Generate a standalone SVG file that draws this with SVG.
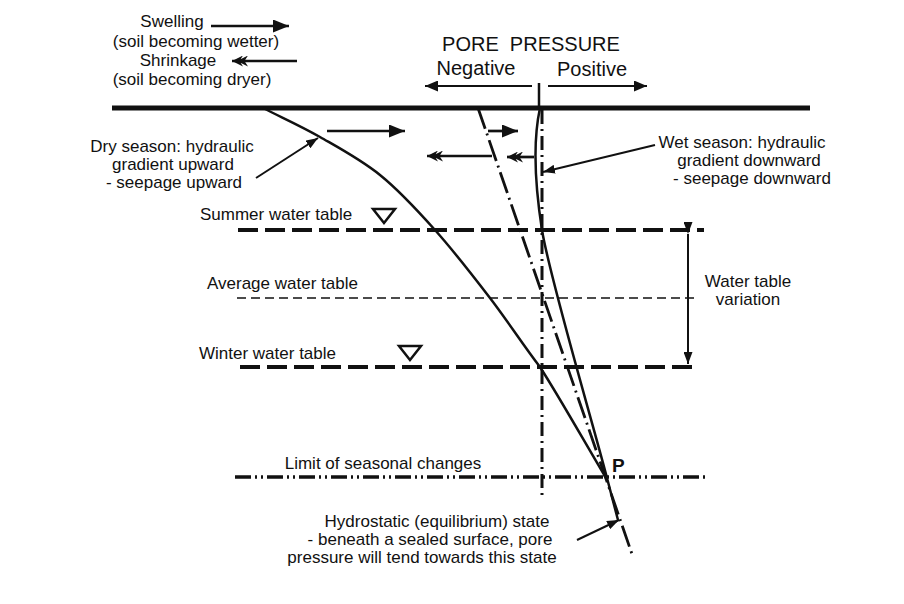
<svg xmlns="http://www.w3.org/2000/svg" width="904" height="604" viewBox="0 0 904 604">
<style>
text{font-family:"Liberation Sans",Arial,sans-serif;font-size:17px;fill:#111}
.c{text-anchor:middle}
.big{font-size:20px}
.ln{stroke:#111;fill:none}
</style>
<defs>
<marker id="tri" viewBox="0 0 12 9" markerUnits="userSpaceOnUse" markerWidth="12" markerHeight="9" refX="12" refY="4.5" orient="auto"><path d="M0,0 L12,4.5 L0,9 Z" fill="#111"/></marker>
<marker id="triM" viewBox="0 0 13 11" markerUnits="userSpaceOnUse" markerWidth="13" markerHeight="11" refX="13" refY="5.5" orient="auto"><path d="M0,0 L13,5.5 L0,11 Z" fill="#111"/></marker>
<marker id="triL" viewBox="0 0 16 13" markerUnits="userSpaceOnUse" markerWidth="16" markerHeight="13" refX="16" refY="6.5" orient="auto"><path d="M0,0 L16,6.5 L0,13 Z" fill="#111"/></marker>
<marker id="dbl" viewBox="0 0 16 11" markerUnits="userSpaceOnUse" markerWidth="16" markerHeight="11" refX="16" refY="5.5" orient="auto"><path d="M16,5.5 L5,0 L8.5,5.5 L5,11 Z M11,5.5 L0,0 L3.5,5.5 L0,11 Z" fill="#111"/></marker>
</defs>
<rect width="904" height="604" fill="#fff"/>

<g id="ground"><line class="ln" x1="112" y1="108" x2="810" y2="108" stroke-width="5"/></g>

<g id="water-tables">
<line class="ln" x1="238" y1="230" x2="704" y2="230" stroke-width="4" stroke-dasharray="20 7"/>
<line class="ln" x1="237" y1="298" x2="698" y2="298" stroke-width="1.6" stroke-dasharray="9 5"/>
<line class="ln" x1="240" y1="367" x2="697" y2="367" stroke-width="4" stroke-dasharray="20 7"/>
<line class="ln" x1="235" y1="477" x2="705" y2="477" stroke-width="3.5" stroke-dasharray="16 4 2 4 2 4"/>
<polygon points="373,209 395,209 384,223" fill="#fff" stroke="#111" stroke-width="2.5"/>
<polygon points="399,346 421,346 410,360" fill="#fff" stroke="#111" stroke-width="2.5"/>
</g>

<g id="profiles">
<line class="ln" x1="542" y1="110" x2="542" y2="498" stroke-width="3" stroke-dasharray="14 5 2 5"/>
<line class="ln" x1="478" y1="108" x2="633" y2="557" stroke-width="2.8" stroke-dasharray="22 5 2 5"/>
<path class="ln" stroke-width="2.5" d="M263,108 C282,117.7 300.5,125.8 320,137 C339.5,148.2 360.8,159.5 380,175 C399.2,190.5 416.7,209.5 435,230 C453.3,250.5 472.5,275.2 490,298 C507.5,320.8 522.5,344.2 540,367 C559.3,397 584,441 606,478"/>
<path class="ln" stroke-width="2.5" d="M540,108 C533,140 535,185 542,230 C549,275 592,420 607,478 L618,520"/>
</g>

<g id="connectors">
<line class="ln" x1="539" y1="83" x2="539" y2="108" stroke-width="2.5"/>
<line class="ln" x1="532" y1="86" x2="425" y2="86" stroke-width="2" marker-end="url(#triM)"/>
<line class="ln" x1="548" y1="86" x2="647" y2="86" stroke-width="2" marker-end="url(#triM)"/>
<line class="ln" x1="211" y1="26" x2="289" y2="26" stroke-width="2.5" marker-end="url(#triL)"/>
<line class="ln" x1="297" y1="61" x2="232" y2="61" stroke-width="2.5" marker-end="url(#dbl)"/>
<line class="ln" x1="327" y1="131" x2="405" y2="131" stroke-width="2.7" marker-end="url(#triL)"/>
<line class="ln" x1="488" y1="131" x2="518" y2="131" stroke-width="2.7" marker-end="url(#triL)"/>
<line class="ln" x1="492" y1="156" x2="427" y2="156" stroke-width="2.7" marker-end="url(#dbl)"/>
<line class="ln" x1="534" y1="157" x2="507" y2="157" stroke-width="2.7" marker-end="url(#dbl)"/>
<line class="ln" x1="256" y1="178" x2="318" y2="138" stroke-width="2" marker-end="url(#tri)"/>
<line class="ln" x1="655" y1="145" x2="543" y2="172" stroke-width="2" marker-end="url(#tri)"/>
<line class="ln" x1="577" y1="540" x2="619" y2="520" stroke-width="2" marker-end="url(#tri)"/>
<line class="ln" x1="688" y1="234" x2="688" y2="364" stroke-width="2" marker-start="url(#tri)" marker-end="url(#tri)"/>
</g>

<g id="legend">
<text class="c" x="172" y="27">Swelling</text>
<text class="c" x="196" y="47">(soil becoming wetter)</text>
<text class="c" x="178" y="66">Shrinkage</text>
<text class="c" x="192" y="85">(soil becoming dryer)</text>
</g>
<g id="pore-pressure">
<text class="c big" x="531" y="51" xml:space="preserve">PORE  PRESSURE</text>
<text class="c big" x="476" y="75">Negative</text>
<text class="c big" x="592" y="76">Positive</text>
</g>
<g id="dry-season">
<text class="c" x="172" y="152">Dry season: hydraulic</text>
<text class="c" x="173" y="170">gradient upward</text>
<text class="c" x="174" y="188">- seepage upward</text>
</g>
<g id="wet-season">
<text class="c" x="742" y="148">Wet season: hydraulic</text>
<text class="c" x="749" y="166">gradient downward</text>
<text class="c" x="752" y="184">- seepage downward</text>
</g>
<g id="summer"><text x="200" y="220">Summer water table</text></g>
<g id="average"><text x="207" y="289">Average water table</text></g>
<g id="winter"><text x="199" y="359">Winter water table</text></g>
<g id="variation">
<text class="c" x="748" y="287">Water table</text>
<text class="c" x="748" y="305">variation</text>
</g>
<g id="limit"><text class="c" x="383" y="469">Limit of seasonal changes</text></g>
<g id="point-p"><text x="612" y="472" style="font-weight:bold;font-size:19px">P</text></g>
<g id="hydrostatic">
<text class="c" x="437" y="527">Hydrostatic (equilibrium) state</text>
<text class="c" x="430" y="545">- beneath a sealed surface, pore</text>
<text class="c" x="422" y="563">pressure will tend towards this state</text>
</g>
</svg>
